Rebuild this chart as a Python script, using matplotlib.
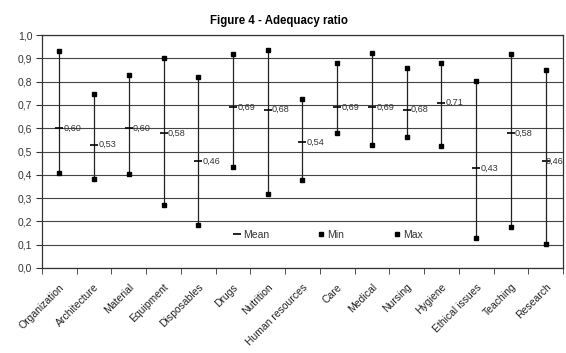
import matplotlib as mpl
mpl.use('Agg')
import matplotlib.pyplot as plt
import matplotlib.transforms as mtrans
import numpy as np

categories = ['Organization', 'Architecture', 'Material', 'Equipment', 'Disposables',
              'Drugs', 'Nutrition', 'Human resources', 'Care', 'Medical', 'Nursing',
              'Hygiene', 'Ethical issues', 'Teaching', 'Research']
mean_vals = [0.60, 0.53, 0.60, 0.58, 0.46, 0.69, 0.68, 0.54, 0.69, 0.69, 0.68, 0.71, 0.43, 0.58, 0.46]
min_vals = [0.406, 0.382, 0.402, 0.269, 0.186, 0.432, 0.316, 0.376, 0.579, 0.528, 0.561, 0.522, 0.130, 0.175, 0.103]
max_vals = [0.933, 0.747, 0.827, 0.900, 0.820, 0.920, 0.937, 0.725, 0.881, 0.924, 0.858, 0.881, 0.804, 0.920, 0.848]
y_ticks = [0.0, 0.1, 0.2, 0.3, 0.4, 0.5, 0.6, 0.7, 0.8, 0.9, 1.0]

plt.rcParams['font.family'] = ['Liberation Sans', 'DejaVu Sans']

fig = plt.figure(figsize=(5.66, 3.53), dpi=100)
ax = fig.add_axes([0.0742, 0.2408, 0.9205, 0.66])

x = np.arange(len(categories))
ax.vlines(x, min_vals, max_vals, color='#222222', lw=0.9, zorder=2)
ax.plot(x, mean_vals, linestyle='none', marker='_', ms=6, mew=1.2, color='black', label='Mean', zorder=3)
ax.plot(x, min_vals, linestyle='none', marker='s', ms=3.2, color='black', label='Min', zorder=3)
ax.plot(x, max_vals, linestyle='none', marker='s', ms=3.2, color='black', label='Max', zorder=3)

# mean value labels, excel style with decimal comma
# (last one is squeezed against the frame like excel does)
for xi, m in zip(x, mean_vals):
    dx = 3 if xi < len(categories) - 1 else 0.3
    ax.annotate(('%.2f' % m).replace('.', ','), (xi, m), xytext=(dx, 0), textcoords='offset points',
                ha='left', va='center', fontsize=6.6, color='#333333', annotation_clip=False)

ax.set_xlim(-0.5, len(categories) - 0.5)
ax.set_ylim(0, 1.0)
ax.set_yticks(y_ticks)
ax.set_yticklabels([('%.1f' % v).replace('.', ',') for v in y_ticks], fontsize=7.5, color='#333333')
ax.yaxis.grid(True, color='#444444', lw=0.8)
ax.set_axisbelow(True)

ax.set_xticks(x)
ax.set_xticklabels(categories, rotation=45, ha='right', va='top', rotation_mode='anchor',
                   fontsize=7.5, color='#222222')
shift = mtrans.ScaledTranslation(-5 / 100, 0, fig.dpi_scale_trans)
for lbl in ax.get_xticklabels():
    lbl.set_transform(lbl.get_transform() + shift)
ax.set_xticks(np.arange(len(categories) + 1) - 0.5, minor=True)
ax.tick_params(axis='x', which='major', length=0, pad=10)
ax.tick_params(axis='x', which='minor', length=4, direction='out', color='#333333')
ax.tick_params(axis='y', length=4, direction='out', color='#333333', pad=3)
for s in ax.spines.values():
    s.set_color('#333333')
    s.set_linewidth(0.9)

ax.legend(loc='lower left', bbox_to_anchor=(0.35, 0.08), ncol=3, frameon=False,
          fontsize=7.5, handlelength=0.6, handletextpad=0.3, columnspacing=4.7,
          labelcolor='#333333')

fig.text(0.493, 0.94, 'Figure 4 - Adequacy ratio', ha='center', va='center',
         fontsize=8.3, fontweight='bold')

plt.savefig('out.png', dpi=100)
